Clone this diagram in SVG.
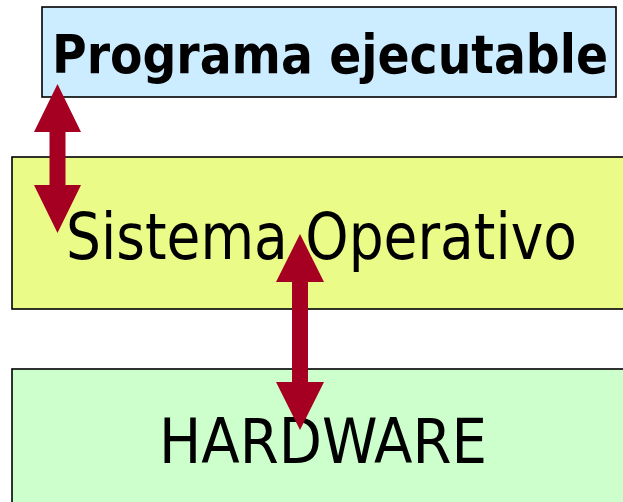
<svg xmlns="http://www.w3.org/2000/svg" width="623" height="502" viewBox="0 0 623 502">
<style>
.box{stroke:#000;stroke-width:1.6}
.t{font-family:"DejaVu Sans Condensed","DejaVu Sans","Liberation Sans",sans-serif;font-stretch:condensed;fill:#000}
.arr{fill:#A50021}
</style>
<rect width="623" height="502" fill="#fff"/>
<g id="programa">
<rect class="box" x="42" y="7" width="574" height="90" fill="#CCECFF"/>
<text class="t" x="52" y="73" font-size="53" font-weight="bold" textLength="556" lengthAdjust="spacingAndGlyphs">Programa ejecutable</text>
</g>
<g id="sistema">
<rect class="box" x="12" y="157" width="620" height="152" fill="#EAFB88"/>
<text class="t" x="66" y="259" font-size="64" textLength="511" lengthAdjust="spacingAndGlyphs">Sistema Operativo</text>
</g>
<g id="hardware">
<rect class="box" x="12" y="369" width="620" height="140" fill="#CCFFCC"/>
<text class="t" x="159" y="463" font-size="63" textLength="328" lengthAdjust="spacingAndGlyphs">HARDWARE</text>
</g>
<g id="connectors">
<polygon class="arr" points="57.5,84 81,132 65.5,132 65.5,185 81,185 57.5,233 34,185 49.5,185 49.5,132 34,132"/>
<polygon class="arr" points="300,234 324,282 308,282 308,382 324,382 300,430 276,382 292,382 292,282 276,282"/>
</g>
</svg>
